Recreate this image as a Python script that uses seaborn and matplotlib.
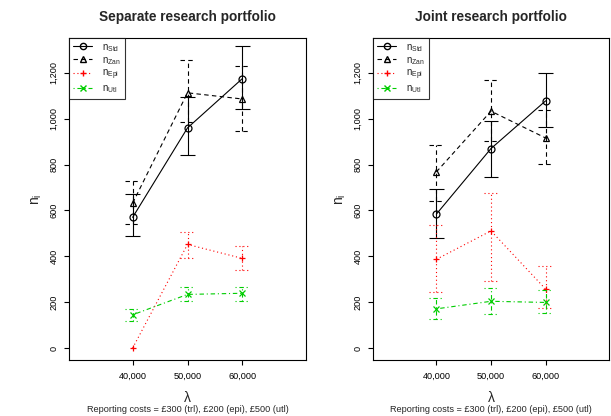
import numpy as np
import pandas as pd
import matplotlib
matplotlib.use("Agg")
import matplotlib.pyplot as plt
import seaborn as sns
from matplotlib.lines import Line2D
from matplotlib.ticker import FuncFormatter

# willingness-to-pay thresholds
lam = [40000, 50000, 60000]

# separate research portfolio: estimate, lower, upper
sep_std = [570, 960, 1175]
sep_std_lo = [490, 840, 1043]
sep_std_hi = [670, 1095, 1318]
sep_zan = [632, 1113, 1086]
sep_zan_lo = [543, 984, 947]
sep_zan_hi = [730, 1258, 1230]
sep_epi = [0, 452, 391]
sep_epi_lo = [0, 393, 339]
sep_epi_hi = [0, 505, 443]
sep_utl = [145, 234, 239]
sep_utl_lo = [117, 207, 205]
sep_utl_hi = [171, 266, 268]

# joint research portfolio
joi_std = [584, 870, 1078]
joi_std_lo = [479, 744, 964]
joi_std_hi = [695, 992, 1200]
joi_zan = [768, 1033, 916]
joi_zan_lo = [643, 902, 802]
joi_zan_hi = [887, 1168, 1037]
joi_epi = [387, 511, 257]
joi_epi_lo = [243, 292, 173]
joi_epi_hi = [538, 678, 360]
joi_utl = [171, 204, 199]
joi_utl_lo = [126, 150, 154]
joi_utl_hi = [220, 261, 255]

labels = [r"$\mathregular{n_{Std}}$", r"$\mathregular{n_{Zan}}$",
          r"$\mathregular{n_{Epi}}$", r"$\mathregular{n_{Utl}}$"]
colors = ["black", "black", "#ff0000", "#00cd00"]
styles = ["-", (0, (4, 3)), (0, (1, 2.5)), (0, (1, 2.5, 4, 2.5))]
markers = ["o", "^", "+", "x"]

note = u"Reporting costs = \u00a3300 (trl), \u00a3200 (epi), \u00a3500 (utl)"

sns.set_style("white")
plt.rcParams["font.family"] = ["Liberation Sans", "DejaVu Sans"]
plt.rcParams["mathtext.fontset"] = "custom"
plt.rcParams["mathtext.rm"] = "Liberation Sans"

fig = plt.figure(figsize=(6.11, 4.16), dpi=100)
ax1 = fig.add_axes([69 / 611, 56 / 416, 237 / 611, 322 / 416])
ax2 = fig.add_axes([373 / 611, 56 / 416, 236 / 611, 322 / 416])

panels = [
    (ax1, "Separate research portfolio",
     [(sep_std, sep_std_lo, sep_std_hi), (sep_zan, sep_zan_lo, sep_zan_hi),
      (sep_epi, sep_epi_lo, sep_epi_hi), (sep_utl, sep_utl_lo, sep_utl_hi)]),
    (ax2, "Joint research portfolio",
     [(joi_std, joi_std_lo, joi_std_hi), (joi_zan, joi_zan_lo, joi_zan_hi),
      (joi_epi, joi_epi_lo, joi_epi_hi), (joi_utl, joi_utl_lo, joi_utl_hi)]),
]

cap = 1350  # half cap width in x data units

for ax, title, series in panels:
    for (val, lo, hi), lab, c, ls, m in zip(series, labels, colors, styles, markers):
        sns.lineplot(x=lam, y=val, ax=ax, color=c, linestyle=ls, linewidth=0.8,
                     marker=m, markersize=5, markerfacecolor="none",
                     markeredgecolor=c, markeredgewidth=0.9, errorbar=None)
        for x, l, h in zip(lam, lo, hi):
            if h == l:
                continue
            ax.vlines(x, l, h, color=c, linestyle=ls, linewidth=0.8)
            ax.hlines([l, h], x - cap, x + cap, color=c, linestyle=ls, linewidth=0.8)

    ax.set_xlim(28400, 71600)
    ax.set_ylim(-52, 1352)
    ax.set_xticks(lam)
    ax.set_yticks(range(0, 1201, 200))
    ax.xaxis.set_major_formatter(FuncFormatter(lambda v, p: f"{int(v):,}"))
    ax.yaxis.set_major_formatter(FuncFormatter(lambda v, p: f"{int(v):,}"))
    ax.tick_params(axis="both", labelsize=6.6, length=3.6, width=0.8,
                   direction="out", left=True, bottom=True, colors="black")
    ax.tick_params(axis="x", pad=5)
    ax.tick_params(axis="y", pad=4)
    for t in ax.get_yticklabels():
        t.set_rotation(90)
        t.set_va("center")
    for s in ax.spines.values():
        s.set_color("black")
        s.set_linewidth(0.8)
    ax.set_title(title, fontsize=9.8, fontweight="bold", pad=12)
    ax.set_xlabel(u"\u03bb", fontsize=10, labelpad=7)
    ax.set_ylabel(r"$\mathregular{n_i}$", fontsize=10, labelpad=4)

    handles = [Line2D([0], [0], color=c, linestyle=ls, linewidth=0.8, marker=m,
                      markersize=4.5, markerfacecolor="none", markeredgecolor=c)
               for c, ls, m in zip(colors, styles, markers)]
    leg = ax.legend(handles, labels, loc="upper left", fontsize=7,
                    frameon=True, fancybox=False, edgecolor="black",
                    handlelength=2.0, handletextpad=1.0, labelspacing=0.12,
                    borderpad=0.4, borderaxespad=0)
    leg.get_frame().set_linewidth(0.8)

    bb = ax.get_position()
    fig.text((bb.x0 + bb.x1) / 2, 1 - 409 / 416, note, ha="center", va="center",
             fontsize=6.6)

fig.savefig("out.png", dpi=100)
